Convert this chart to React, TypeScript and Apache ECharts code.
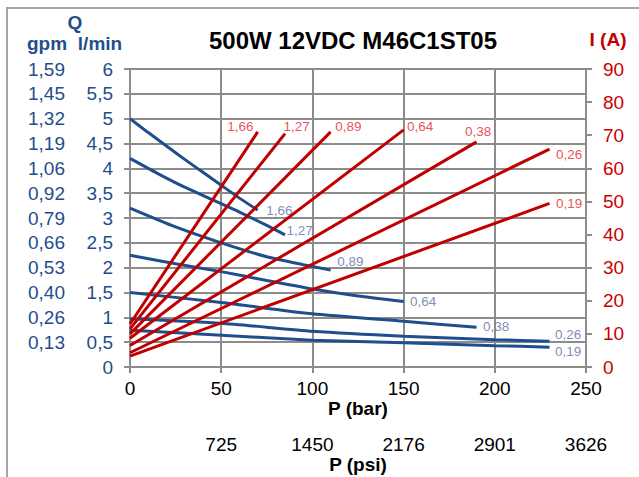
import React, { useEffect, useRef } from "react";
import * as echarts from "echarts";

// Displacement labels (cc)
const displacements = ["1,66", "1,27", "0,89", "0,64", "0,38", "0,26", "0,19"];

// Flow Q (l/min) vs pressure P (bar)
const flow166 = [[0, 5.0], [10, 4.72], [20, 4.45], [30, 4.18], [40, 3.92], [50, 3.66], [60, 3.4], [70, 3.16]];
const flow127 = [[0, 4.2], [15, 3.9], [30, 3.62], [45, 3.37], [60, 3.12], [75, 2.85], [85, 2.66]];
const flow089 = [[0, 3.2], [25, 2.82], [50, 2.5], [75, 2.22], [95, 2.06], [110, 1.95]];
const flow064 = [[0, 2.25], [25, 2.08], [50, 1.92], [75, 1.74], [100, 1.57], [125, 1.43], [150, 1.32]];
const flow038 = [[0, 1.5], [50, 1.3], [100, 1.07], [150, 0.92], [190, 0.8]];
const flow026 = [[0, 0.97], [50, 0.88], [100, 0.72], [150, 0.62], [200, 0.55], [230, 0.52]];
const flow019 = [[0, 0.74], [50, 0.64], [100, 0.54], [150, 0.49], [200, 0.43], [230, 0.4]];

// Current I (A) vs pressure P (bar)
const current166 = [[0, 13], [70, 71]];
const current127 = [[0, 11.5], [85, 70.5]];
const current089 = [[0, 10], [110, 71]];
const current064 = [[0, 8.7], [150, 71.6]];
const current038 = [[0, 6.5], [190, 68]];
const current026 = [[0, 4.3], [230, 65.8]];
const current019 = [[0, 3.3], [230, 49.4]];

// Tick labels
const gpmLabels = ["", "0,13", "0,26", "0,40", "0,53", "0,66", "0,79", "0,92", "1,06", "1,19", "1,32", "1,45", "1,59"];
const psiLabels = ["", "725", "1450", "2176", "2901", "3626"];

const flowCurves = [flow166, flow127, flow089, flow064, flow038, flow026, flow019];
const currentLines = [current166, current127, current089, current064, current038, current026, current019];

// label offsets (layout only)
const flowLabelOffsets = [[3, 0], [-4, -4], [1, -9], [1, 0], [1, -1], [0, -7], [0, 4]];
const currentLabelOffsets = [[-36, -5], [-7, -7], [-1, -5], [-2, -3], [-17, -10], [1, 5], [1, 0]];

const BLUE = "#1f4e8c";
const RED = "#c00000";
const BLUE_LABEL = "#5b6ea3";
const RED_LABEL = "#e3232b";
const GRID = "#8c8c8c";
const FONT = "'Liberation Sans', Arial, sans-serif";

export default function App() {
  const ref = useRef<HTMLDivElement>(null);
  useEffect(() => {
    if (!ref.current) return;
    const chart = echarts.init(ref.current, null, { renderer: "svg" });
    const series: any[] = [];
    flowCurves.forEach((d) => {
      series.push({
        type: "line",
        xAxisIndex: 0,
        yAxisIndex: 0,
        data: d,
        symbol: "none",
        smooth: 0.2,
        lineStyle: { color: BLUE, width: 3 },
        z: 3,
      });
    });
    currentLines.forEach((d) => {
      series.push({
        type: "line",
        xAxisIndex: 0,
        yAxisIndex: 2,
        data: d,
        symbol: "none",
        lineStyle: { color: RED, width: 3 },
        z: 4,
      });
    });
    flowCurves.forEach((d, i) => {
      series.push({
        type: "scatter",
        xAxisIndex: 0,
        yAxisIndex: 0,
        symbolSize: 1,
        itemStyle: { color: "rgba(0,0,0,0)" },
        data: [{
          value: d[d.length - 1],
          label: {
            show: true, formatter: displacements[i], position: "right", distance: 5,
            offset: flowLabelOffsets[i], color: BLUE_LABEL, fontSize: 13.5, fontFamily: FONT,
          },
        }],
        z: 5,
      });
    });
    currentLines.forEach((d, i) => {
      series.push({
        type: "scatter",
        xAxisIndex: 0,
        yAxisIndex: 2,
        symbolSize: 1,
        itemStyle: { color: "rgba(0,0,0,0)" },
        data: [{
          value: d[d.length - 1],
          label: {
            show: true, formatter: displacements[i], position: "right", distance: 5,
            offset: currentLabelOffsets[i], color: RED_LABEL, fontSize: 13.5, fontFamily: FONT,
          },
        }],
        z: 5,
      });
    });

    chart.setOption({
      animation: false,
      textStyle: { fontFamily: FONT },
      grid: { left: 130, right: 53, top: 69, bottom: 110, containLabel: false, outerBoundsMode: "none" },
      xAxis: [
        {
          type: "value", min: 0, max: 250, interval: 50, position: "bottom",
          axisLine: { show: true, lineStyle: { color: GRID, width: 2 } },
          axisTick: { show: true, length: 6, lineStyle: { color: GRID, width: 2 } },
          splitLine: { show: true, lineStyle: { color: GRID, width: 2 } },
          axisLabel: { color: "#000", fontSize: 19, margin: 12, fontFamily: FONT },
          name: "P (bar)", nameLocation: "middle", nameGap: 32, nameMoveOverlap: false,
          nameTextStyle: { color: "#000", fontSize: 19, fontWeight: "bold", fontFamily: FONT },
        },
        {
          type: "value", min: 0, max: 250, interval: 50, position: "bottom", offset: 56,
          axisLine: { show: false }, axisTick: { show: false }, splitLine: { show: false },
          axisLabel: {
            color: "#000", fontSize: 19, margin: 12, fontFamily: FONT,
            formatter: (v: number) => psiLabels[Math.round(v / 50)] ?? "",
          },
          name: "P (psi)", nameLocation: "middle", nameGap: 32, nameMoveOverlap: false,
          nameTextStyle: { color: "#000", fontSize: 19, fontWeight: "bold", fontFamily: FONT },
        },
      ],
      yAxis: [
        {
          type: "value", min: 0, max: 6, interval: 0.5, position: "left",
          axisLine: { show: true, lineStyle: { color: GRID, width: 2 } },
          axisTick: { show: true, length: 6, lineStyle: { color: GRID, width: 2 } },
          splitLine: { show: true, lineStyle: { color: GRID, width: 2 } },
          axisLabel: {
            color: BLUE, fontSize: 19, margin: 17, fontFamily: FONT,
            formatter: (v: number) => String(v).replace(".", ","),
          },
        },
        {
          type: "value", min: 0, max: 6, interval: 0.5, position: "left", offset: 49,
          axisLine: { show: false }, axisTick: { show: false }, splitLine: { show: false },
          axisLabel: {
            color: BLUE, fontSize: 19, margin: 16, fontFamily: FONT,
            formatter: (v: number) => gpmLabels[Math.round(v / 0.5)] ?? "",
          },
        },
        {
          type: "value", min: 0, max: 90, interval: 10, position: "right",
          axisLine: { show: true, lineStyle: { color: GRID, width: 2 } },
          axisTick: { show: true, length: 6, lineStyle: { color: GRID, width: 2 } },
          splitLine: { show: false },
          axisLabel: { color: "#cc0000", fontSize: 19, margin: 17, fontFamily: FONT },
        },
      ],
      graphic: [
        { type: "rect", shape: { x: 7, y: 8, width: 800, height: 600 }, style: { fill: "none", stroke: "#a6a6a6", lineWidth: 2 }, silent: true },
        { type: "text", x: 353, y: 40, style: { text: "500W 12VDC M46C1ST05", fill: "#000", font: `bold 24px ${FONT}`, textAlign: "center", textVerticalAlign: "middle" } },
        { type: "text", x: 75, y: 22, style: { text: "Q", fill: BLUE, font: `bold 19px ${FONT}`, textAlign: "center", textVerticalAlign: "middle" } },
        { type: "text", x: 47, y: 43, style: { text: "gpm", fill: BLUE, font: `bold 19px ${FONT}`, textAlign: "center", textVerticalAlign: "middle" } },
        { type: "text", x: 100, y: 43, style: { text: "l/min", fill: BLUE, font: `bold 19px ${FONT}`, textAlign: "center", textVerticalAlign: "middle" } },
        { type: "text", x: 608, y: 39, style: { text: "I (A)", fill: RED, font: `bold 19px ${FONT}`, textAlign: "center", textVerticalAlign: "middle" } },
      ],
      series,
    });
    return () => chart.dispose();
  }, []);
  return <div ref={ref} style={{ position: "fixed", left: 0, top: 0, width: 639, height: 477, background: "#fff" }} />;
}
